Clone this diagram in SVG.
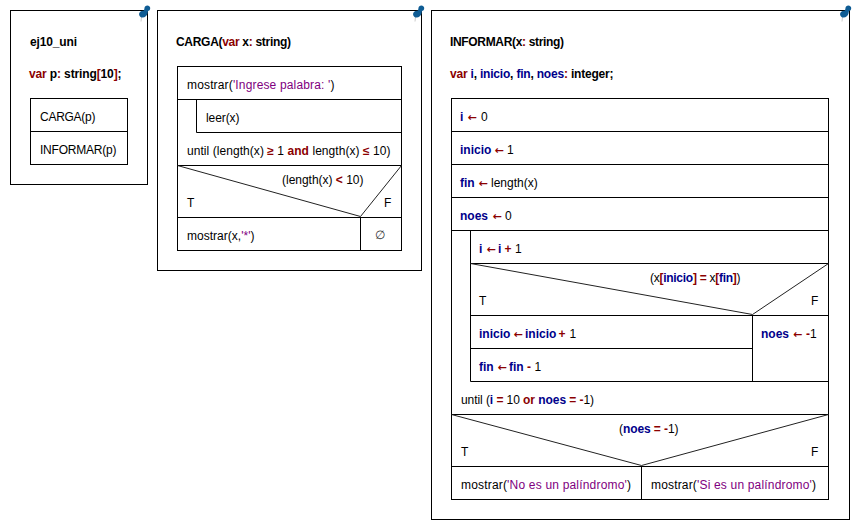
<svg xmlns="http://www.w3.org/2000/svg" width="860" height="531" viewBox="0 0 860 531">
<style>
text{font-family:"Liberation Sans",Arial,sans-serif;font-size:12px;fill:#000}
.b{font-weight:bold}
.r{fill:#8b0000;font-weight:bold}
.n{fill:#00008b;font-weight:bold}
.p{fill:#800080}
.a{fill:#8b0000;font-family:"DejaVu Sans",sans-serif;font-size:11px;font-weight:bold}
.box{fill:#fff;stroke:#000;stroke-width:1}
.l{fill:none;stroke:#000;stroke-width:1}
.d{fill:none;stroke:#222;stroke-width:1}
</style>
<defs>
<g id="pin">
<path d="M-1.500 5L-2 9.500" fill="none" stroke="#ccc" stroke-width="1"/>
<path d="M1.500 -4C1.500 -6.500 5 -7.500 6.500 -5.500C8 -4 7 -1 5 -1L4.500 1.500C4 4.500 0.500 6.500 -2.500 5C-4.500 3.500 -4.500 0 -1.500 -1L1 -1.500Z" fill="#0f5c94"/>
</g>
</defs>
<rect width="860" height="531" fill="#fff"/>

<g id="panel-ej10">
<rect class="box" x="10.500" y="10.500" width="137" height="174"/>
<use href="#pin" x="143" y="12"/>
<text class="b" x="30" y="46" textLength="47">ej10_uni</text>
<text class="b" x="29" y="78" textLength="92.500"><tspan class="r">var</tspan> p<tspan class="r">:</tspan> string<tspan class="r">[</tspan>10<tspan class="r">]</tspan>;</text>
<rect class="box" x="30.500" y="98.500" width="97" height="66"/>
<path class="l" d="M30.500 131.500H127.500"/>
<text x="40" y="121" textLength="55.500">CARGA(p)</text>
<text x="40" y="154" textLength="76.500">INFORMAR(p)</text>
</g>

<g id="panel-carga">
<rect class="box" x="157.500" y="10.500" width="264" height="260"/>
<use href="#pin" x="417" y="12"/>
<text class="b" x="176" y="46" textLength="115">CARGA(<tspan class="r">var</tspan> x<tspan class="r">:</tspan> string)</text>
<rect class="box" x="177.500" y="66.500" width="224" height="184"/>
<path class="l" d="M177.500 99.500H401.500M196.500 99.500V132.500M196.500 132.500H401.500M177.500 165.500H401.500M177.500 217.500H401.500M360.500 217.500V250.500"/>
<path class="d" d="M177.500 165.500L360.500 216.500L401.500 165.500"/>
<text x="187" y="89" textLength="147.500">mostrar(<tspan class="p">'Ingrese palabra: '</tspan>)</text>
<text x="206" y="122" textLength="33.500">leer(x)</text>
<text x="187" y="155" textLength="203.500">until (length(x) <tspan class="r">≥</tspan> 1 <tspan class="r">and</tspan> length(x) <tspan class="r">≤</tspan> 10)</text>
<text x="282" y="184" textLength="81.500">(length(x) <tspan class="r">&lt;</tspan> 10)</text>
<text x="187" y="207">T</text>
<text x="384" y="207">F</text>
<text x="375" y="239" style="fill:#333">∅</text>
<text x="187" y="240" textLength="67.500">mostrar(x,<tspan class="p">'*'</tspan>)</text>
</g>

<g id="panel-informar">
<rect class="box" x="431.500" y="10.500" width="418" height="509"/>
<use href="#pin" x="844" y="12"/>
<text class="b" x="450" y="46" textLength="114">INFORMAR(x<tspan class="r">:</tspan> string)</text>
<text class="b" x="450" y="78" textLength="163.500"><tspan class="r">var</tspan> <tspan class="n">i</tspan>, <tspan class="n">inicio</tspan>, <tspan class="n">fin</tspan>, <tspan class="n">noes</tspan><tspan class="r">:</tspan> integer;</text>
<rect class="box" x="451.500" y="98.500" width="377" height="401"/>
<path class="l" d="M451.500 131.500H828.500M451.500 164.500H828.500M451.500 197.500H828.500M451.500 230.500H828.500M470.500 230.500V381.500M470.500 263.500H828.500M470.500 315.500H828.500M470.500 348.500H752.500M470.500 381.500H828.500M752.500 315.500V381.500M451.500 414.500H828.500M451.500 466.500H828.500M641.500 466.500V499.500"/>
<path class="d" d="M470.500 263.500L752.500 314.500L828.500 263.500M451.500 414.500L641.500 465.500L828.500 414.500"/>
<text y="121"><tspan class="n" x="460">i</tspan><tspan class="a" x="467.500">←</tspan><tspan x="481">0</tspan></text>
<text y="154"><tspan class="n" x="460">inicio</tspan><tspan class="a" x="494.500">←</tspan><tspan x="507">1</tspan></text>
<text y="187"><tspan class="n" x="460">fin</tspan><tspan class="a" x="478.500">←</tspan><tspan x="491">length(x)</tspan></text>
<text y="220"><tspan class="n" x="460">noes</tspan><tspan class="a" x="492.500">←</tspan><tspan x="505">0</tspan></text>
<text y="253"><tspan class="n" x="479">i</tspan><tspan class="a" x="486.500">←</tspan><tspan class="n" x="498">i</tspan><tspan class="r" x="504.500">+</tspan><tspan x="515">1</tspan></text>
<text x="650" y="282" textLength="90.500">(x<tspan class="r">[</tspan><tspan class="n">inicio</tspan><tspan class="r">]</tspan> <tspan class="r">=</tspan> x<tspan class="r">[</tspan><tspan class="n">fin</tspan><tspan class="r">]</tspan>)</text>
<text x="479" y="305">T</text>
<text x="811" y="305">F</text>
<text y="338"><tspan class="n" x="479">inicio</tspan><tspan class="a" x="513.500">←</tspan><tspan class="n" x="525">inicio</tspan><tspan class="r" x="558.500">+</tspan><tspan x="569.500">1</tspan></text>
<text y="371"><tspan class="n" x="479">fin</tspan><tspan class="a" x="497.500">←</tspan><tspan class="n" x="509">fin</tspan><tspan class="r" x="527">-</tspan><tspan x="534.500">1</tspan></text>
<text y="338"><tspan class="n" x="761">noes</tspan><tspan class="a" x="793">←</tspan><tspan class="r" x="806">-</tspan><tspan x="810">1</tspan></text>
<text x="461" y="404" textLength="133">until (<tspan class="n">i</tspan> <tspan class="r">=</tspan> 10 <tspan class="r">or</tspan> <tspan class="n">noes</tspan> <tspan class="r">=</tspan> <tspan class="r">-</tspan>1)</text>
<text x="619" y="433" textLength="59.500">(<tspan class="n">noes</tspan> <tspan class="r">=</tspan> <tspan class="r">-</tspan>1)</text>
<text x="461" y="456">T</text>
<text x="811" y="456">F</text>
<text x="461" y="489" textLength="170">mostrar(<tspan class="p">'No es un palíndromo'</tspan>)</text>
<text x="651" y="489" textLength="165">mostrar(<tspan class="p">'Si es un palíndromo'</tspan>)</text>
</g>
</svg>
